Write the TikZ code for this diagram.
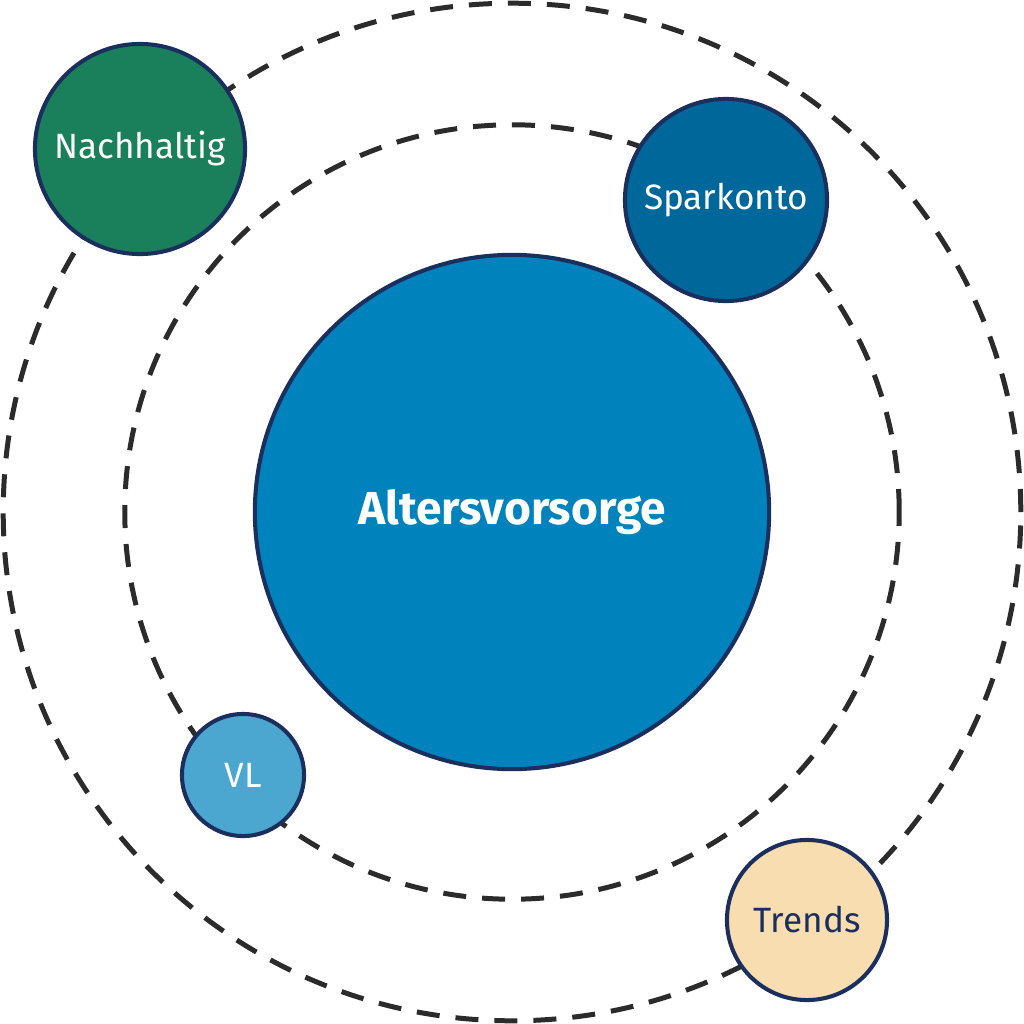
\documentclass[tikz,border=0pt]{standalone}
\usepackage{fontspec}
\setmainfont{Fira Sans}
\usepackage{xcolor}
\usepackage{tikz}
\usetikzlibrary{positioning}
\definecolor{navy}{HTML}{1B2F5E}
\definecolor{orbit}{HTML}{2B2B2B}
\definecolor{coreblue}{HTML}{0082BC}
\definecolor{deepblue}{HTML}{00679A}
\definecolor{lightblue}{HTML}{4BA6D0}
\definecolor{greenish}{HTML}{1A7F5B}
\definecolor{sand}{HTML}{F8DDB0}

\begin{document}
\begin{tikzpicture}[x=0.01cm, y=-0.01cm,
    bubble/.style={circle, draw=navy, line width=1.15pt, inner sep=0pt, font=\fontsize{10}{12}\selectfont, text=white},
    orbitline/.style={draw=orbit, line width=1.42pt, dash pattern=on 0.23cm off 0.16cm}]
    \useasboundingbox (0,0) rectangle (1024,1024);
    % orbits
    \coordinate (mid) at (512,512);
    \draw[orbitline] (mid) circle (5.085cm);
    \draw[orbitline] (mid) circle (3.87cm);
    % bubbles
    \node[bubble, fill=coreblue, minimum size=5.14cm, font=\fontsize{13.1}{15}\selectfont\bfseries] (core) at (mid) {Altersvorsorge};
    \node[bubble, fill=greenish, minimum size=2.10cm] (nach) at (140,149) {Nachhaltig};
    \node[bubble, fill=deepblue, minimum size=2.02cm] (spar) at (726,200) {Sparkonto};
    \node[bubble, fill=lightblue, minimum size=1.22cm] (vl) at (243,775) {VL};
    \node[bubble, fill=sand, minimum size=1.60cm, text=navy] (trends) at (807,920) {Trends};
  \end{tikzpicture}
\end{document}
